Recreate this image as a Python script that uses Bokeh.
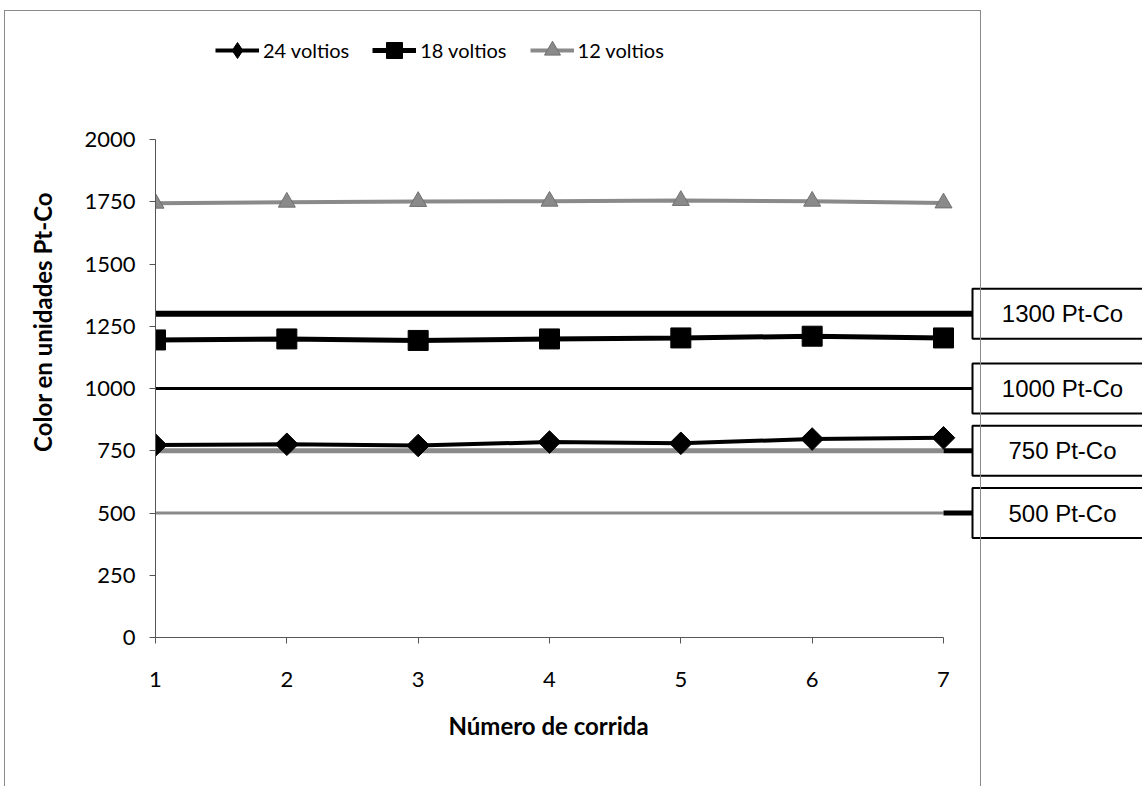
import numpy as np
from bokeh.plotting import figure
from bokeh.models import (Range1d, FixedTicker, Legend, LegendItem, Title,
                          ColumnDataSource, InlineStyleSheet)
from bokeh.core.properties import value
from bokeh.embed import file_html
from bokeh.resources import INLINE

# ---------------- data ----------------
runs = [1, 2, 3, 4, 5, 6, 7]
v24 = [773, 776, 771, 785, 780, 797, 802]
v18 = [1195, 1199, 1193, 1199, 1203, 1210, 1203]
v12 = [1744, 1748, 1751, 1752, 1755, 1752, 1745]
ref_levels = [1300, 1000, 750, 500]
ref_labels = ["1300 Pt-Co", "1000 Pt-Co", "750 Pt-Co", "500 Pt-Co"]
y_ticks = [0, 250, 500, 750, 1000, 1250, 1500, 1750, 2000]

# ---------------- layout constants ----------------
FONT = "Lato"
BOX_FONT = "Liberation Sans"
PX = 788 / 6                      # pixels per run
X_END = 1 + 987 / PX              # frame reaches right window edge
Y_END = 637 / 0.249               # frame reaches top window edge
BOX_LEFT = 1 + (972 - 155) / PX
BOX_X = 1 + (1062 - 155) / PX

border_css = InlineStyleSheet(css="""
:host::after {
  content: ""; position: absolute; left: 4px; top: 10px;
  width: 977px; height: 800px; border: 1px solid #8a8a8a;
  box-sizing: border-box; pointer-events: none;
}
""")

p = figure(width=1142, height=786, x_range=Range1d(1, X_END),
           y_range=Range1d(0, Y_END), output_backend="svg",
           toolbar_location=None, min_border_left=155, min_border_right=0,
           min_border_top=0, min_border_bottom=149,
           stylesheets=[border_css])
p.outline_line_color = None
p.xgrid.visible = False
p.ygrid.visible = False
p.background_fill_color = "white"
p.border_fill_color = "white"

# axes
p.xaxis.bounds = (1, 7)
p.yaxis.bounds = (0, 2000)
p.xaxis.ticker = FixedTicker(ticks=runs)
p.yaxis.ticker = FixedTicker(ticks=y_ticks)
for ax in (p.xaxis, p.yaxis):
    ax.axis_line_color = "#555555"
    ax.axis_line_width = 1
    ax.major_tick_line_color = "#555555"
    ax.major_tick_out = 6
    ax.major_tick_in = 0
    ax.minor_tick_line_color = None
    ax.major_label_text_font = FONT
    ax.major_label_text_font_size = "22px"
    ax.major_label_text_color = "black"
p.xaxis.major_label_standoff = 28
p.yaxis.major_label_standoff = 14

# axis titles
p.add_layout(Title(text="Color  en unidades Pt-Co", align="center",
                   standoff=49, text_font=FONT, text_font_style="bold",
                   text_font_size="24px", text_color="black"), "left")
p.add_layout(Title(text="Número de corrida", align="left", offset=293,
                   standoff=38, text_font=FONT, text_font_style="bold",
                   text_font_size="24px", text_color="black"), "below")

# reference lines
gray = "#8a8a8a"
p.line([1, 7], [ref_levels[3]] * 2, line_color=gray, line_width=3)
p.line([1, 7], [ref_levels[2]] * 2, line_color=gray, line_width=5)
p.line([7, BOX_LEFT], [ref_levels[3]] * 2, line_color="black", line_width=5)
p.line([7, BOX_LEFT], [ref_levels[2]] * 2, line_color="black", line_width=5)
p.line([1, BOX_LEFT], [ref_levels[0]] * 2, line_color="black", line_width=6)
p.line([1, BOX_LEFT], [ref_levels[1]] * 2, line_color="black", line_width=3)

# series
l12 = p.line(runs, v12, line_color=gray, line_width=4)
s12 = p.scatter(runs, v12, marker="triangle", size=17, fill_color=gray,
                line_color="#707070")
l18 = p.line(runs, v18, line_color="black", line_width=5)
s18 = p.scatter(runs, v18, marker="square", size=20, fill_color="black",
                line_color="black")
l24 = p.line(runs, v24, line_color="black", line_width=4)
s24 = p.scatter(runs, v24, marker="square", size=16, angle=np.pi / 4,
                fill_color="black", line_color="black")
# legend swatch for the diamond marker (no data points)
d24 = p.scatter([np.nan], [np.nan], marker="diamond", size=16,
                fill_color="black", line_color="black")

# label boxes
bsrc = ColumnDataSource(dict(x=[BOX_X] * 4, y=ref_levels, t=ref_labels))
p.rect(x="x", y="y", width=180, height=50, width_units="screen",
       height_units="screen", source=bsrc, fill_color="white",
       line_color="black", line_width=2)
p.text(x="x", y="y", text="t", source=bsrc, text_align="center",
       text_baseline="middle", text_font=value(BOX_FONT),
       text_font_size="24px", text_color="black")

# legend
legend = Legend(items=[LegendItem(label="24 voltios", renderers=[l24, d24]),
                       LegendItem(label="18 voltios", renderers=[l18, s18]),
                       LegendItem(label="12 voltios", renderers=[l12, s12])],
                orientation="horizontal", location=(60, 567),
                glyph_width=44, glyph_height=40, label_standoff=4,
                spacing=23, padding=0, margin=0,
                border_line_color=None, background_fill_alpha=0,
                label_text_font=FONT, label_text_font_size="20px",
                label_text_color="black")
p.add_layout(legend, "center")

open("out.html", "w").write(file_html(p, INLINE))
